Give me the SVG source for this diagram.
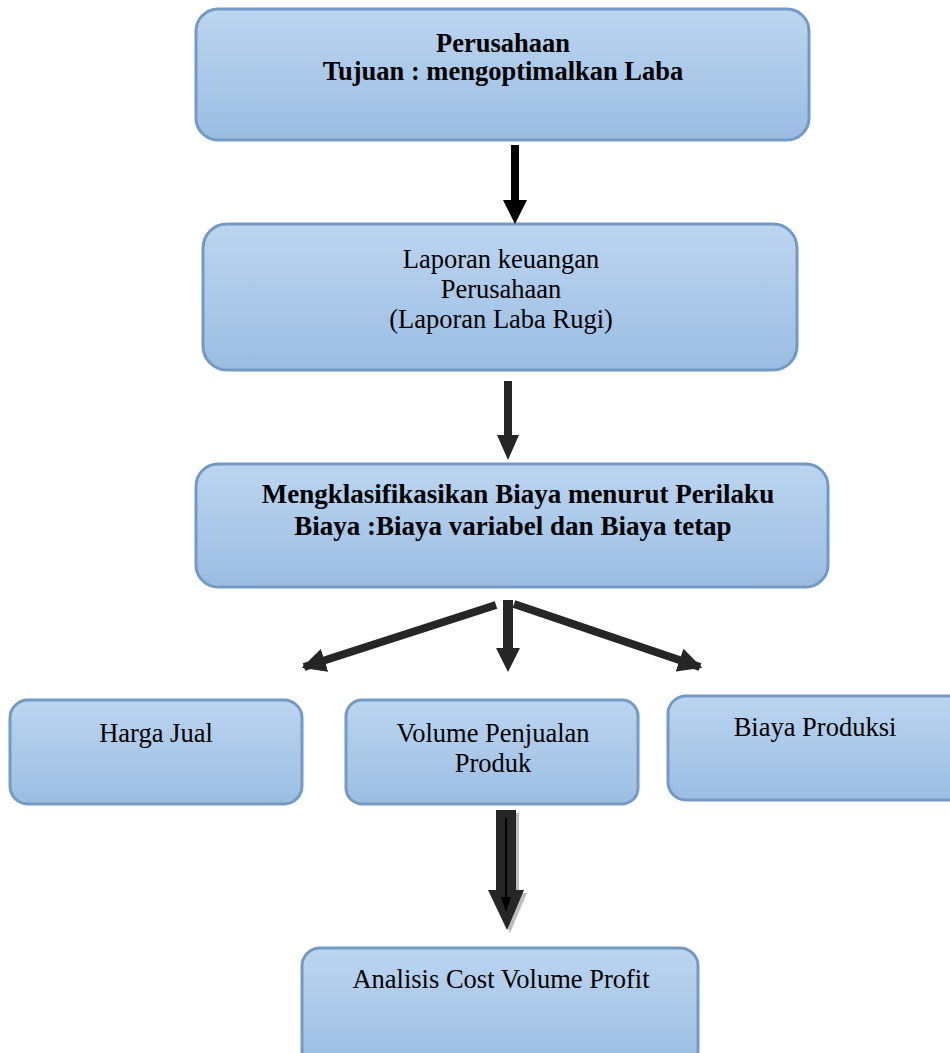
<svg xmlns="http://www.w3.org/2000/svg" width="950" height="1053" viewBox="0 0 950 1053">
<defs>
<linearGradient id="g" x1="0" y1="0" x2="0" y2="1">
<stop offset="0" stop-color="#bcd5f0"/>
<stop offset="1" stop-color="#9bbde2"/>
</linearGradient>
<marker id="ah" viewBox="0 0 10 10" refX="9" refY="5" markerWidth="3" markerHeight="3" orient="auto" markerUnits="strokeWidth">
<path d="M0,0 L10,5 L0,10 Z" fill="#262626"/>
</marker>
</defs>
<style>
.box{fill:url(#g);stroke:#7499c2;stroke-width:3}
.t{font-family:"Liberation Serif","Times New Roman",serif;font-size:26.5px;fill:#000;text-anchor:middle}
.b{font-weight:bold}
.arr{stroke:#262626;stroke-width:8;fill:none}
</style>
<rect width="950" height="1053" fill="#fff"/>
<g id="n1">
<rect class="box" x="196" y="9" width="613" height="131" rx="22"/>
<text class="t b" x="503" y="52">Perusahaan</text>
<text class="t b" x="503" y="80">Tujuan : mengoptimalkan Laba</text>
</g>
<g id="n2">
<rect class="box" x="203" y="224" width="594" height="146" rx="24"/>
<text class="t" x="501" y="268">Laporan keuangan</text>
<text class="t" x="501" y="298">Perusahaan</text>
<text class="t" x="501" y="328">(Laporan Laba Rugi)</text>
</g>
<g id="n3">
<rect class="box" x="196" y="464" width="632" height="123" rx="22"/>
<text class="t b" x="518" y="503" style="font-size:27px">Mengklasifikasikan Biaya menurut Perilaku</text>
<text class="t b" x="513" y="535" style="font-size:27px">Biaya :Biaya variabel dan Biaya tetap</text>
</g>
<g id="n4">
<rect class="box" x="10" y="700" width="292" height="104" rx="18"/>
<text class="t" x="156" y="742">Harga Jual</text>
</g>
<g id="n5">
<rect class="box" x="346" y="700" width="292" height="104" rx="16"/>
<text class="t" x="493" y="742">Volume Penjualan</text>
<text class="t" x="493" y="772">Produk</text>
</g>
<g id="n6">
<rect class="box" x="668" y="696" width="300" height="104" rx="18"/>
<text class="t" x="815" y="736">Biaya Produksi</text>
</g>
<g id="n7">
<rect class="box" x="302" y="948" width="396" height="120" rx="18"/>
<text class="t" x="501" y="988">Analisis Cost Volume Profit</text>
</g>
<g id="connectors">
<path d="M511,145 H519 V200 H527 L515,224 L503,200 H511 Z" fill="#000"/>
<path d="M504,381 H512 V435 H519 L508,460 L497,435 H504 Z" fill="#262626"/>
<path d="M503,600 H513 V648 H520 L508,672 L496,648 H503 Z" fill="#262626"/>
<line class="arr" x1="496" y1="605" x2="304" y2="667" marker-end="url(#ah)"/>
<line class="arr" x1="514" y1="604" x2="700" y2="667" marker-end="url(#ah)"/>
<path d="M499,813 H519 V893 H527 L510,933 L491,893 H499 Z" fill="#bdbdbd"/>
<path d="M496,810 H516 V890 H524 L507,930 L488,890 H496 Z" fill="#262626"/>
<path d="M505,818 H507 V897 H511 L506,912 L501,897 H505 Z" fill="#000"/>
</g>
</svg>
